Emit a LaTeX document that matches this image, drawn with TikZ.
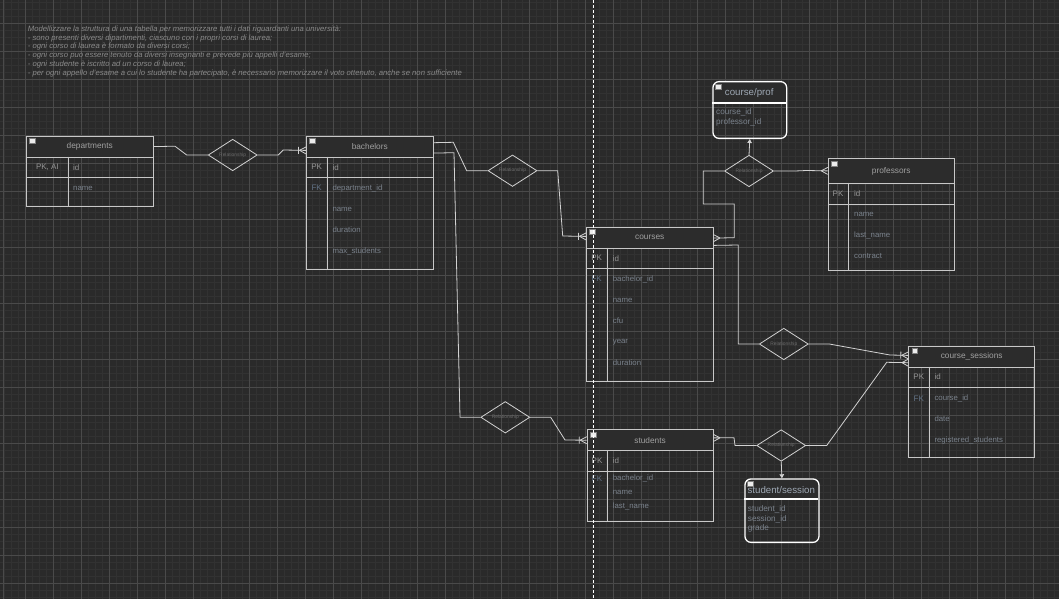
\documentclass[tikz,border=0pt]{standalone}
\usepackage{fontspec}
\setmainfont{Liberation Sans}
\usetikzlibrary{shapes.geometric,arrows.meta,decorations.markings}
\definecolor{bgcol}{HTML}{2A2A2A}
\definecolor{minorcol}{HTML}{323232}
\definecolor{majorcol}{HTML}{4A4A4A}
\definecolor{linecol}{HTML}{D2D2D2}
\definecolor{bordcol}{HTML}{C8C8C8}
\definecolor{headcol}{HTML}{2C2C2C}
\definecolor{headtext}{HTML}{A0A0A0}
\definecolor{fieldtext}{HTML}{7A828C}
\definecolor{keytext}{HTML}{959595}
\definecolor{fktext}{HTML}{627386}
\definecolor{reltext}{HTML}{6C6C6C}
\definecolor{notetext}{HTML}{8A8A8A}
\definecolor{rtitle}{HTML}{9EA8B4}
\def\fs#1{\fontsize{#1}{#1}\selectfont}

\begin{document}
\begin{tikzpicture}[x=1pt,y=-1pt,
  tab/.style={draw=bordcol,line width=0.8pt,anchor=north west,inner sep=0pt},
  head/.style={tab,fill=headcol,minimum height=21pt,text=headtext,font=\fs{8.3}},
  tabline/.style={draw=bordcol,line width=0.8pt},
  icon/.style={anchor=north west,inner sep=0pt,minimum width=5.5pt,minimum height=5pt,fill=white!85!gray,draw=gray,line width=0.4pt},
  key/.style={inner sep=0pt,text=keytext,font=\fs{8}},
  fk/.style={key,text=fktext},
  idtext/.style={anchor=west,inner sep=0pt,text=keytext,font=\fs{8}},
  field/.style={anchor=west,inner sep=0pt,text=fieldtext,font=\fs{7.8}},
  rbox/.style={draw=white,line width=1.3pt,rounded corners=6pt,anchor=north west,inner sep=0pt},
  rfield/.style={anchor=north west,inner sep=0pt,align=left,text=fieldtext,font=\fontsize{8.2}{9.4}\selectfont},
  rel/.style={diamond,draw=linecol,line width=0.8pt,minimum width=49pt,minimum height=25pt,inner sep=0pt,text=reltext,font=\fs{4.9}},
  conn/.style={draw=linecol,line width=0.8pt},
  crow/.style={postaction={decorate,decoration={markings,mark=at position 1 with {\draw[conn] (-6.5pt,0pt) -- (0pt,3.5pt) (-6.5pt,0pt) -- (0pt,-3.5pt);}}}},
  crowbar/.style={postaction={decorate,decoration={markings,mark=at position 1 with {\draw[conn] (-6.5pt,0pt) -- (0pt,3.5pt) (-6.5pt,0pt) -- (0pt,-3.5pt) (-7.5pt,-3.5pt) -- (-7.5pt,3.5pt);}}}},
  tip/.style={conn,-{Triangle[length=4pt,width=4.5pt]},fill=linecol}]
\useasboundingbox (0,0) rectangle (1059,599);
\fill [bgcol] (0,0) rectangle (1059,599);
%
% grid
\foreach \x in {4.3,11.3,...,1059} \draw [minorcol,line width=0.5pt] (\x,0) -- (\x,599);
\foreach \y in {2.3,9.3,...,599} \draw [minorcol,line width=0.5pt] (0,\y) -- (1059,\y);
\foreach \x in {25.3,53.3,...,1059} \draw [majorcol,line width=0.6pt] (\x,0) -- (\x,599);
\foreach \y in {23.3,51.3,...,599} \draw [majorcol,line width=0.6pt] (0,\y) -- (1059,\y);
\draw [majorcol,line width=0.6pt] (3.3,0) -- (3.3,599);
%
% task text
\node [anchor=north west,inner sep=0pt,align=left,text=notetext,font=\fontsize{7.7}{8.9}\selectfont\itshape] at (27.7,25.3) (task) {Modellizzare la struttura di una tabella per memorizzare tutti i dati riguardanti una università:\\
- sono presenti diversi dipartimenti, ciascuno con i propri corsi di laurea;\\
- ogni corso di laurea è formato da diversi corsi;\\
- ogni corso può essere tenuto da diversi insegnanti e prevede più appelli d'esame;\\
- ogni studente è iscritto ad un corso di laurea;\\
- per ogni appello d'esame a cui lo studente ha partecipato, è necessario memorizzare il voto ottenuto, anche se non sufficiente};
%
% departments
\node [tab,minimum width=126.7pt,minimum height=70pt] at (26,135.7) (departments) {};
\node [head,minimum width=126.7pt] at (26,135.7) (departments head) {departments};
\node [icon] at (29.3,138.3) (departments icon) {};
\draw [tabline] (26,177.7) -- (152.7,177.7) (68.7,156.7) -- (68.7,205.7);
\node [key] at (47.35,167.2) (departments pk) {PK, AI};
\node [idtext] at (73,167.2) (departments id) {id};
\node [field] at (73,188.2) (departments name) {name};
%
% bachelors
\node [tab,minimum width=126.7pt,minimum height=133.3pt] at (306,135.7) (bachelors) {};
\node [head,minimum width=126.7pt] at (306,135.7) (bachelors head) {bachelors};
\node [icon] at (309.3,138.3) (bachelors icon) {};
\draw [tabline] (306,177.7) -- (432.7,177.7) (327.3,156.7) -- (327.3,269);
\node [key] at (316.65,167.2) (bachelors pk) {PK};
\node [fk] at (316.65,188.2) (bachelors fk) {FK};
\node [idtext] at (332.3,167.2) (bachelors id) {id};
\node [field] at (332.3,188.2) (bachelors dep) {department\_id};
\node [field] at (332.3,209.2) (bachelors name) {name};
\node [field] at (332.3,230.2) (bachelors dur) {duration};
\node [field] at (332.3,251.2) (bachelors max) {max\_students};
%
% courses
\node [tab,minimum width=126.7pt,minimum height=154pt] at (586,226.7) (courses) {};
\node [head,minimum width=126.7pt] at (586,226.7) (courses head) {courses};
\node [icon] at (589.3,229.3) (courses icon) {};
\draw [tabline] (586,268.7) -- (712.7,268.7) (607.3,247.7) -- (607.3,380.7);
\node [key] at (596.65,258.2) (courses pk) {PK};
\node [fk] at (596.65,279.2) (courses fk) {FK};
\node [idtext] at (612.7,258.2) (courses id) {id};
\node [field] at (612.7,279.2) (courses bach) {bachelor\_id};
\node [field] at (612.7,300.2) (courses name) {name};
\node [field] at (612.7,321.2) (courses cfu) {cfu};
\node [field] at (612.7,342.2) (courses year) {year};
\node [field] at (612.7,363.2) (courses dur) {duration};
%
% professors
\node [tab,minimum width=126.3pt,minimum height=111.7pt] at (827.7,158.3) (professors) {};
\node [head,minimum width=126.3pt,minimum height=24.4pt] at (827.7,158.3) (professors head) {professors};
\node [icon] at (831,161) (professors icon) {};
\draw [tabline] (827.7,204) -- (954,204) (848.3,182.7) -- (848.3,270);
\node [key] at (838,193.3) (professors pk) {PK};
\node [idtext] at (854,193.3) (professors id) {id};
\node [field] at (854,214.3) (professors name) {name};
\node [field] at (854,235.3) (professors last) {last\_name};
\node [field] at (854,256.3) (professors contract) {contract};
%
% students
\node [tab,minimum width=126pt,minimum height=91.4pt] at (586.7,429.3) (students) {};
\node [head,minimum width=126pt] at (586.7,429.3) (students head) {students};
\node [icon] at (590,432) (students icon) {};
\draw [tabline] (586.7,471.7) -- (712.7,471.7) (607.3,450.7) -- (607.3,520.7);
\node [key] at (597,461) (students pk) {PK};
\node [fk] at (597,478.3) (students fk) {FK};
\node [idtext] at (612.7,461) (students id) {id};
\node [field] at (612.7,478.3) (students bach) {bachelor\_id};
\node [field] at (612.7,492.3) (students name) {name};
\node [field] at (612.7,506.3) (students last) {last\_name};
%
% course_sessions
\node [tab,minimum width=126pt,minimum height=111.6pt] at (908.3,345.7) (sessions) {};
\node [head,minimum width=126pt] at (908.3,345.7) (sessions head) {course\_sessions};
\node [icon] at (911.6,348.3) (sessions icon) {};
\draw [tabline] (908.3,387.7) -- (1034.3,387.7) (929.3,366.7) -- (929.3,457.3);
\node [key] at (918.8,376.7) (sessions pk) {PK};
\node [fk] at (918.8,398.3) (sessions fk) {FK};
\node [idtext] at (934.3,376.7) (sessions id) {id};
\node [field] at (934.3,398.3) (sessions course) {course\_id};
\node [field] at (934.3,419) (sessions date) {date};
\node [field] at (934.3,440) (sessions reg) {registered\_students};
%
% course/prof
\fill [headcol] (712.3,103) [rounded corners=6pt] -- (712.3,81) -- (786,81) [sharp corners] -- (786,103) -- cycle;
\node [rbox,minimum width=73.7pt,minimum height=56.7pt] at (712.3,81) (course prof) {};
\draw [white,line width=1.2pt] (712.3,103) -- (786,103);
\node [icon] at (715.3,84) (course prof icon) {};
\node [text=rtitle,font=\fs{9.7},inner sep=0pt] at (749.2,92.7) (course prof title) {course/prof};
\node [rfield] at (716,108.5) (course prof fields) {course\_id\\professor\_id};
%
% student/session
\fill [headcol] (744.3,499) [rounded corners=6pt] -- (744.3,478.3) -- (818.3,478.3) [sharp corners] -- (818.3,499) -- cycle;
\node [rbox,minimum width=74pt,minimum height=63.4pt] at (744.3,478.3) (student session) {};
\draw [white,line width=1.2pt] (744.3,499) -- (818.3,499);
\node [icon] at (747.3,481.3) (student session icon) {};
\node [text=rtitle,font=\fs{9.7},inner sep=0pt] at (781.3,490) (student session title) {student/session};
\node [rfield] at (747.7,505.5) (student session fields) {student\_id\\session\_id\\grade};
%
% relationships
\node [rel] at (232.7,155) (r dep bach) {Relationship};
\node [rel] at (512.5,170.7) (r bach course) {Relationship};
\node [rel] at (505.3,417.3) (r bach stud) {Relationship};
\node [rel] at (749,171) (r course prof) {Relationship};
\node [rel] at (783.8,344) (r course sess) {Relationship};
\node [rel] at (781.2,445.5) (r stud sess) {Relationship};
%
%
\draw [conn] (departments head.east) -- (175,146.2) -- (186.7,155) -- (r dep bach.west);
\draw [conn,crowbar] (r dep bach.east) -- (278.3,155) -- (283.3,150) -- ([yshift=-3.8pt]bachelors head.west);
\draw [conn] ([yshift=3.9pt]bachelors head.east) -- (453.3,142.3) -- (466.7,170.7) -- (r bach course.west);
\draw [conn,crowbar] (r bach course.east) -- (557.7,170.7) -- (562.7,236) -- ([yshift=1.2pt]courses head.west);
\draw [conn] ([yshift=-6.5pt]bachelors head.east) -- (454,152.7) -- (460,417.3) -- (r bach stud.west);
\draw [conn,crowbar] (r bach stud.east) -- (550.7,417.3) -- (565,440) -- (students head.west);
\draw [conn,crow] (r course prof.west) -- (703.3,171) -- (703.3,204) -- (734.3,204) -- (734.3,237.7) -- ([yshift=-0.5pt]courses head.east);
\draw [conn,crow] (r course prof.east) -- (795,171) -- (806.7,170.5) -- (professors head.west);
\draw [tip] (r course prof.north) -- (course prof.south);
\draw [conn] ([yshift=-7.8pt]courses head.east) -- (738.3,245) -- (738.3,344) -- (r course sess.west);
\draw [conn,crowbar] (r course sess.east) -- (829.3,344) -- (890,355) -- ([yshift=1.2pt]sessions head.west);
\draw [conn,crow] (r stud sess.west) -- (735,445.5) -- (734,437.7) -- ([yshift=2.3pt]students head.east);
\draw [conn,crow] (r stud sess.east) -- (826.7,445.5) -- (886.7,362.3) -- ([yshift=-6.1pt]sessions head.west);
\draw [tip] (r stud sess.south) -- (student session.north);
%
% page break
\draw [white,line width=0.8pt,dash pattern=on 3pt off 2pt] (593.3,0) -- (593.3,599);
\end{tikzpicture}
\end{document}
